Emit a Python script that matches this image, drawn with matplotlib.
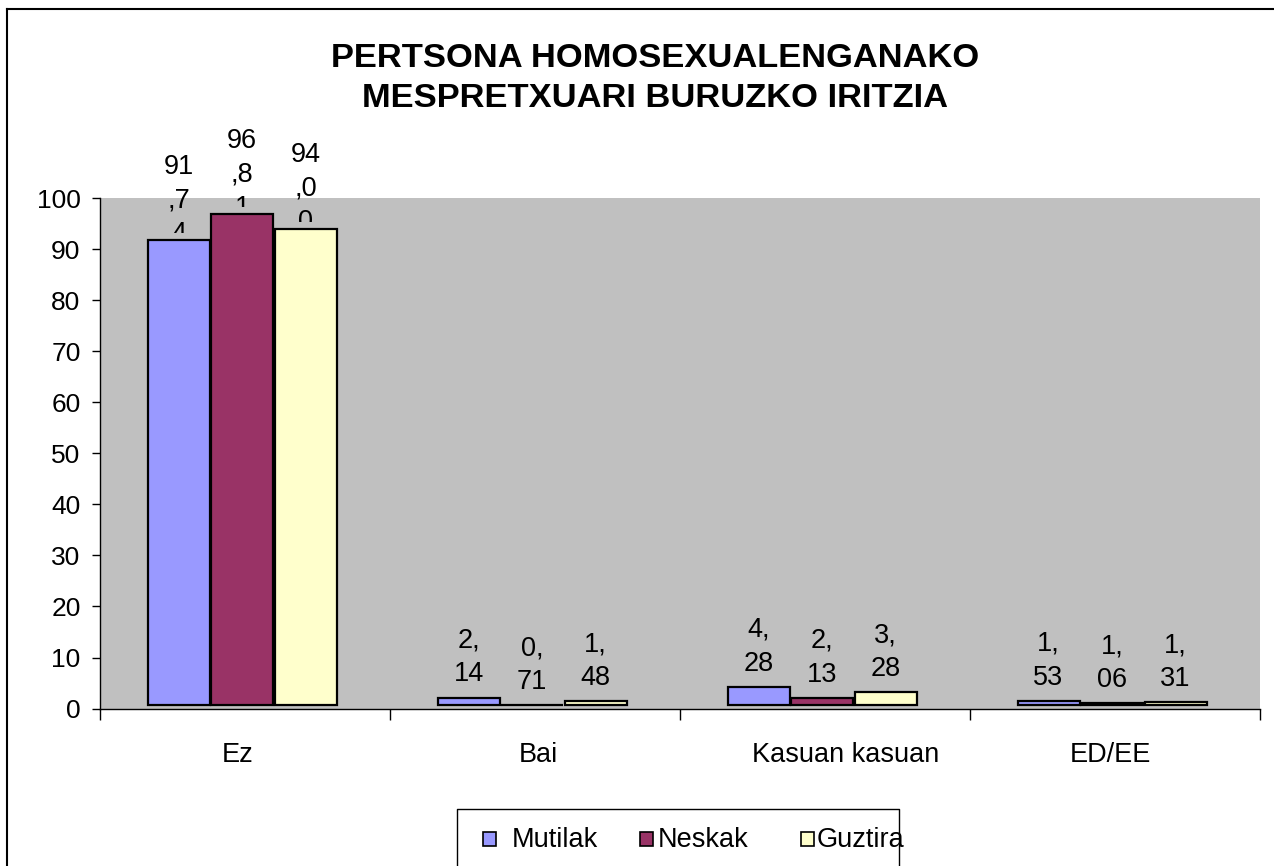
import matplotlib
matplotlib.use("Agg")
import matplotlib.pyplot as plt
from matplotlib.patches import Rectangle
from matplotlib.lines import Line2D
from matplotlib.transforms import ScaledTranslation, Bbox

plt.rcParams['font.family'] = ['Liberation Sans', 'DejaVu Sans']

# ---- data ----
categories = ["Ez", "Bai", "Kasuan kasuan", "ED/EE"]
series_names = ["Mutilak", "Neskak", "Guztira"]
mutilak = [91.74, 2.14, 4.28, 1.53]
neskak = [96.81, 0.71, 2.13, 1.06]
guztira = [94.00, 1.48, 3.28, 1.31]
yticks = [0, 10, 20, 30, 40, 50, 60, 70, 80, 90, 100]
title_lines = ["PERTSONA HOMOSEXUALENGANAKO", "MESPRETXUARI BURUZKO IRITZIA"]

# ---- style ----
colors = ["#9999FF", "#993366", "#FFFFCC"]
W, H = 1274, 866
FLOOR = 0.7
bar_w = 0.214
step = 0.219
shift = -0.01

fig = plt.figure(figsize=(W / 100, H / 100), dpi=100)
fig.patch.set_facecolor("white")

def fx(px):
    return px / W

def fy(py):
    return 1 - py / H

ax = fig.add_axes([fx(100), fy(708.6), fx(1260) - fx(100), fy(198) - fy(708.6)])
ax.set_facecolor("#C0C0C0")
ax.set_xlim(-0.5, len(categories) - 0.5)
ax.set_ylim(0, 100)

all_series = [mutilak, neskak, guztira]
for j, (vals, col) in enumerate(zip(all_series, colors)):
    for i, v in enumerate(vals):
        x = i + (j - 1) * step + shift
        ax.bar(x, v - FLOOR, bottom=FLOOR, width=bar_w, color=col,
               edgecolor="black", linewidth=1.6, zorder=2)
        s = f"{v:.2f}".replace(".", ",")
        lab = "\n".join(s[k:k + 2] for k in range(0, len(s), 2))
        t = ax.annotate(lab, xy=(x, v), xytext=(0, 40), textcoords="offset pixels",
                        ha="center", va="center", fontsize=19.5, linespacing=1.38,
                        zorder=3, annotation_clip=False)
        # Excel-like label box: text overflowing the box is clipped
        dx, dy = ax.transData.transform((x, v))
        t.set_clip_box(Bbox.from_extents(dx - 60, dy + 7, dx + 60, dy + 400))
        t.set_clip_on(True)

# spines
for sp in ["top", "right"]:
    ax.spines[sp].set_visible(False)
ax.spines["left"].set_linewidth(1.0)
ax.spines["bottom"].set_linewidth(1.0)

# y axis
ax.set_yticks(yticks)
ax.set_yticklabels([str(t) for t in yticks], fontsize=19)
ax.tick_params(axis="y", direction="out", length=6, width=1.0, pad=8)

# x axis: boundary ticks (major) + label ticks (minor)
ax.set_xticks([i - 0.5 for i in range(len(categories) + 1)])
ax.set_xticklabels([""] * (len(categories) + 1))
ax.tick_params(axis="x", which="major", direction="out", length=8, width=1.0)
ax.set_xticks(range(len(categories)), minor=True)
ax.set_xticklabels(categories, minor=True, fontsize=19.5)
ax.tick_params(axis="x", which="minor", length=0, pad=24)
label_dx = [-7, 3, 21, -5]
for lbl, ddx in zip(ax.get_xticklabels(minor=True), label_dx):
    lbl.set_transform(lbl.get_transform() + ScaledTranslation(ddx / 100, 0, fig.dpi_scale_trans))

# title
fig.text(fx(655), fy(67), title_lines[0], ha="center", va="baseline",
         fontsize=24.8, fontweight="bold")
fig.text(fx(655), fy(107), title_lines[1], ha="center", va="baseline",
         fontsize=24.8, fontweight="bold")

# outer chart border (cut at right/bottom)
fig.add_artist(Line2D([fx(7), fx(7)], [fy(9), fy(866)], color="black", lw=1.5))
fig.add_artist(Line2D([fx(7), fx(1274)], [fy(9), fy(9)], color="black", lw=1.5))

# legend box (cut at bottom)
fig.add_artist(Line2D([fx(457), fx(457), fx(899), fx(899)],
                      [fy(866), fy(809), fy(809), fy(866)], color="black", lw=1.0))
sq_x = [483, 640, 801]
txt_x = [512, 658, 817]
for name, col, sx, tx in zip(series_names, colors, sq_x, txt_x):
    fig.add_artist(Rectangle((fx(sx), fy(846)), fx(13), 14 / H, facecolor=col,
                             edgecolor="black", linewidth=1.2,
                             transform=fig.transFigure))
    fig.text(fx(tx), fy(847), name, ha="left", va="baseline", fontsize=19.5)

fig.savefig("out.png", dpi=100)
